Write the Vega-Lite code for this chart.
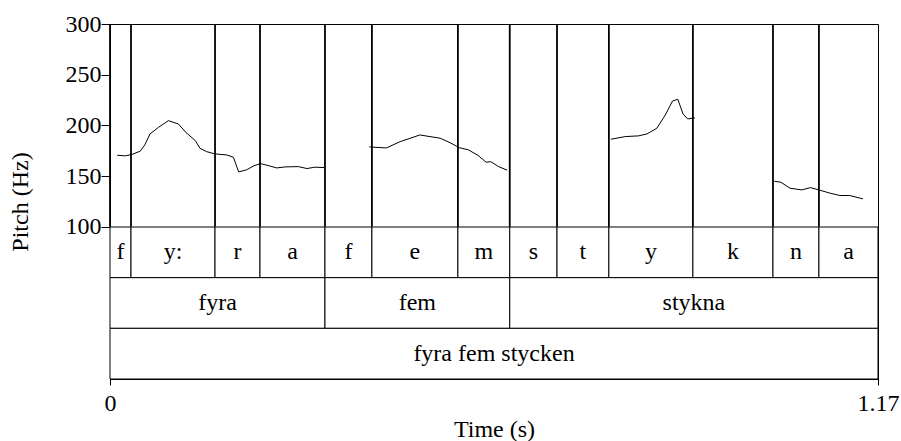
{
  "$schema": "https://vega.github.io/schema/vega-lite/v6.json",
  "width": 768,
  "height": 355,
  "autosize": {"type": "none"},
  "padding": {"left": 110, "top": 24, "right": 23, "bottom": 62},
  "background": "white",
  "config": {
    "font": "Times New Roman",
    "view": {"stroke": "#000", "strokeWidth": 1},
    "axis": {
      "grid": false,
      "domainColor": "#000",
      "tickColor": "#000",
      "labelColor": "#000",
      "titleColor": "#000",
      "labelFont": "serif",
      "titleFont": "Times New Roman",
      "labelFontSize": 24,
      "titleFontSize": 24,
      "titleFontWeight": "normal"
    }
  },
  "datasets": {
    "pitch": [
      {"t": 0.011, "f": 170.6, "s": 1}, {"t": 0.023, "f": 170.0, "s": 1}, {"t": 0.033, "f": 171.3, "s": 1},
      {"t": 0.046, "f": 174.6, "s": 1}, {"t": 0.053, "f": 180.8, "s": 1}, {"t": 0.061, "f": 191.6, "s": 1},
      {"t": 0.074, "f": 198.2, "s": 1}, {"t": 0.089, "f": 204.7, "s": 1}, {"t": 0.104, "f": 201.5, "s": 1},
      {"t": 0.116, "f": 192.9, "s": 1}, {"t": 0.130, "f": 185.0, "s": 1}, {"t": 0.137, "f": 177.5, "s": 1},
      {"t": 0.147, "f": 174.2, "s": 1}, {"t": 0.160, "f": 171.9, "s": 1}, {"t": 0.178, "f": 170.9, "s": 1},
      {"t": 0.188, "f": 168.6, "s": 1}, {"t": 0.196, "f": 154.2, "s": 1}, {"t": 0.208, "f": 156.2, "s": 1},
      {"t": 0.219, "f": 160.1, "s": 1}, {"t": 0.229, "f": 162.4, "s": 1}, {"t": 0.239, "f": 160.8, "s": 1},
      {"t": 0.254, "f": 158.1, "s": 1}, {"t": 0.267, "f": 159.1, "s": 1}, {"t": 0.287, "f": 159.4, "s": 1},
      {"t": 0.300, "f": 157.5, "s": 1}, {"t": 0.312, "f": 158.8, "s": 1}, {"t": 0.326, "f": 158.5, "s": 1},
      {"t": 0.395, "f": 178.8, "s": 2}, {"t": 0.421, "f": 177.8, "s": 2}, {"t": 0.442, "f": 184.0, "s": 2},
      {"t": 0.472, "f": 190.6, "s": 2}, {"t": 0.503, "f": 187.4, "s": 2}, {"t": 0.518, "f": 183.0, "s": 2},
      {"t": 0.532, "f": 178.1, "s": 2}, {"t": 0.546, "f": 175.9, "s": 2}, {"t": 0.561, "f": 170.3, "s": 2},
      {"t": 0.573, "f": 163.7, "s": 2}, {"t": 0.580, "f": 164.3, "s": 2}, {"t": 0.592, "f": 159.4, "s": 2},
      {"t": 0.605, "f": 155.9, "s": 2},
      {"t": 0.763, "f": 186.4, "s": 3}, {"t": 0.785, "f": 189.0, "s": 3}, {"t": 0.805, "f": 189.7, "s": 3},
      {"t": 0.818, "f": 191.6, "s": 3}, {"t": 0.833, "f": 197.2, "s": 3}, {"t": 0.846, "f": 210.3, "s": 3},
      {"t": 0.857, "f": 224.1, "s": 3}, {"t": 0.865, "f": 225.8, "s": 3}, {"t": 0.873, "f": 211.3, "s": 3},
      {"t": 0.880, "f": 206.4, "s": 3}, {"t": 0.891, "f": 207.4, "s": 3},
      {"t": 1.012, "f": 145.0, "s": 4}, {"t": 1.022, "f": 144.0, "s": 4}, {"t": 1.036, "f": 138.1, "s": 4},
      {"t": 1.054, "f": 136.4, "s": 4}, {"t": 1.067, "f": 138.7, "s": 4}, {"t": 1.080, "f": 136.4, "s": 4},
      {"t": 1.097, "f": 133.2, "s": 4}, {"t": 1.112, "f": 130.9, "s": 4}, {"t": 1.127, "f": 130.9, "s": 4},
      {"t": 1.147, "f": 127.6, "s": 4}
    ],
    "tiers": [
      {"tier": "phones", "label": "f", "start": 0, "end": 0.032},
      {"tier": "phones", "label": "y:", "start": 0.032, "end": 0.160},
      {"tier": "phones", "label": "r", "start": 0.160, "end": 0.2285},
      {"tier": "phones", "label": "a", "start": 0.2285, "end": 0.3275},
      {"tier": "phones", "label": "f", "start": 0.3275, "end": 0.399},
      {"tier": "phones", "label": "e", "start": 0.399, "end": 0.530},
      {"tier": "phones", "label": "m", "start": 0.530, "end": 0.609},
      {"tier": "phones", "label": "s", "start": 0.609, "end": 0.681},
      {"tier": "phones", "label": "t", "start": 0.681, "end": 0.760},
      {"tier": "phones", "label": "y", "start": 0.760, "end": 0.888},
      {"tier": "phones", "label": "k", "start": 0.888, "end": 1.010},
      {"tier": "phones", "label": "n", "start": 1.010, "end": 1.080},
      {"tier": "phones", "label": "a", "start": 1.080, "end": 1.17},
      {"tier": "words", "label": "fyra", "start": 0, "end": 0.3275},
      {"tier": "words", "label": "fem", "start": 0.3275, "end": 0.609},
      {"tier": "words", "label": "stykna", "start": 0.609, "end": 1.17},
      {"tier": "phrase", "label": "fyra fem stycken", "start": 0, "end": 1.17}
    ]
  },
  "layer": [
    {
      "layer": [
        {
          "data": {"name": "tiers"},
          "transform": [{"filter": "datum.tier === 'phones'"}],
          "mark": {"type": "rule", "color": "#000", "strokeWidth": 1.8},
          "encoding": {
            "x": {"field": "start", "type": "quantitative", "scale": {"domain": [0, 1.17], "nice": false, "zero": false},
                  "axis": {"values": [0, 1.17], "format": ".3~f", "labelFlush": false, "tickSize": 6, "labelPadding": 6, "title": "Time (s)", "titlePadding": 2}},
            "y": {"datum": 100, "type": "quantitative"},
            "y2": {"datum": 300}
          }
        },
        {
          "data": {"name": "pitch"},
          "mark": {"type": "line", "color": "#000", "strokeWidth": 1},
          "encoding": {
            "x": {"field": "t", "type": "quantitative", "scale": {"domain": [0, 1.17], "nice": false, "zero": false},
                  "axis": {"values": [0, 1.17], "format": ".3~f", "labelFlush": false, "tickSize": 6, "labelPadding": 6, "title": "Time (s)", "titlePadding": 2}},
            "y": {"field": "f", "type": "quantitative", "scale": {"domain": [-50, 300], "nice": false, "zero": false},
                  "axis": {"values": [100, 150, 200, 250, 300], "tickSize": 9, "labelPadding": 0, "title": "Pitch (Hz)", "titlePadding": 33}},
            "detail": {"field": "s"}
          }
        }
      ]
    },
    {
      "data": {"name": "tiers"},
      "encoding": {
        "y": {"field": "tier", "type": "nominal", "scale": {"domain": ["phones", "words", "phrase"], "range": [203, 355], "paddingInner": 0, "paddingOuter": 0}, "axis": null}
      },
      "layer": [
        {
          "mark": {"type": "rect", "fill": "white", "stroke": "#000", "strokeWidth": 1},
          "encoding": {
            "x": {"field": "start", "type": "quantitative", "scale": {"domain": [0, 1.17], "nice": false, "zero": false},
                  "axis": {"values": [0, 1.17], "format": ".3~f", "labelFlush": false, "tickSize": 6, "labelPadding": 6, "title": "Time (s)", "titlePadding": 2}},
            "x2": {"field": "end"}
          }
        },
        {
          "transform": [{"calculate": "(datum.start + datum.end) / 2", "as": "mid"}],
          "mark": {"type": "text", "font": "Liberation Serif", "fontSize": 24, "color": "#000", "baseline": "middle", "align": "center"},
          "encoding": {
            "x": {"field": "mid", "type": "quantitative", "scale": {"domain": [0, 1.17], "nice": false, "zero": false},
                  "axis": {"values": [0, 1.17], "format": ".3~f", "labelFlush": false, "tickSize": 6, "labelPadding": 6, "title": "Time (s)", "titlePadding": 2}},
            "text": {"field": "label"}
          }
        }
      ]
    }
  ],
  "resolve": {"scale": {"y": "independent"}}
}
